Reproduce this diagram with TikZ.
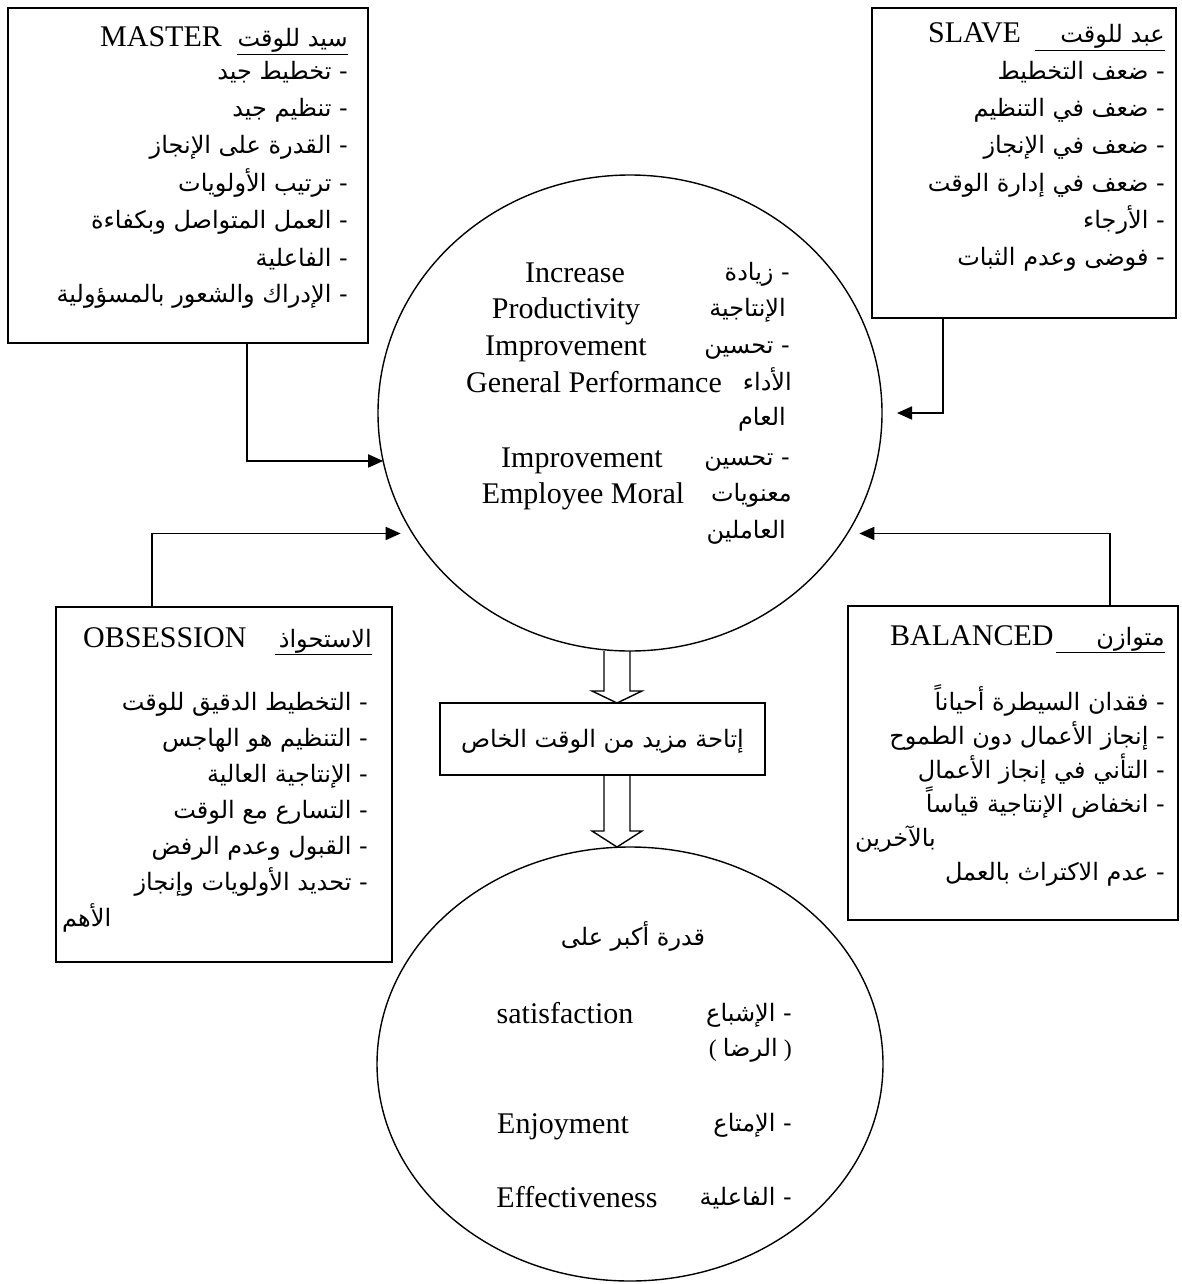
\documentclass[tikz,border=0pt]{standalone}
\usepackage{fontspec}
\setmainfont{Liberation Serif}
\newfontfamily\arfont[Script=Arabic]{DejaVu Sans}
\TeXXeTstate=1
\usetikzlibrary{shapes.geometric,arrows.meta}
\newcommand\AR[1]{{\arfont\beginR #1\endR}}
\begin{document}
\begin{tikzpicture}[x=1pt,y=-1pt,
  boxnode/.style={draw,line width=1.8pt,inner sep=0,outer sep=0,anchor=north west},
  circnode/.style={draw,ellipse,line width=1.4pt,inner sep=0,outer sep=0},
  arr/.style={line width=1.8pt,-{Triangle[length=15pt,width=13pt]}},
  hollow/.style={draw,line width=1.4pt,line join=miter},
  ar/.style={font=\fontsize{24}{28}\selectfont,inner sep=0,anchor=base east},
  arl/.style={font=\fontsize{24}{28}\selectfont,inner sep=0,anchor=base west},
  arc/.style={font=\fontsize{24}{28}\selectfont,inner sep=0,anchor=base},
  en/.style={font=\fontsize{30}{36}\selectfont,inner sep=0,anchor=base},
  enl/.style={font=\fontsize{30}{36}\selectfont,inner sep=0,anchor=base west},
]
\useasboundingbox (0,0) rectangle (1181,1284);

% boxes
\node[boxnode,minimum width=360pt,minimum height=335pt] (master) at (8,8) {};
\node[boxnode,minimum width=304pt,minimum height=310pt] (slave) at (872,8) {};
\node[boxnode,minimum width=336pt,minimum height=355pt] (obs) at (56,607) {};
\node[boxnode,minimum width=330pt,minimum height=314pt] (bal) at (848,606) {};
\node[boxnode,minimum width=325pt,minimum height=72pt] (mid) at (440,703) {};

% ellipses
\node[circnode,minimum width=504pt,minimum height=476pt] (main) at (630,413) {};
\node[circnode,minimum width=506pt,minimum height=434pt] (bot) at (630,1064) {};

% master text
\node[enl] (mT) at (100,47) {MASTER};
\node[ar] (mA) at (348,47) {\underline{\makebox[111pt][r]{\AR{سيد للوقت}}}};
\node[ar] (m1) at (348,80) {\AR{- تخطيط جيد}};
\node[ar] (m2) at (348,117) {\AR{- تنظيم جيد}};
\node[ar] (m3) at (348,154) {\AR{- القدرة على الإنجاز}};
\node[ar] (m4) at (348,191) {\AR{- ترتيب الأولويات}};
\node[ar] (m5) at (348,228) {\AR{- العمل المتواصل وبكفاءة}};
\node[ar] (m6) at (348,266) {\AR{- الفاعلية}};
\node[ar] (m7) at (348,302) {\AR{- الإدراك والشعور بالمسؤولية}};

% slave text
\node[enl] (sT) at (928,43) {SLAVE};
\node[ar] (sA) at (1165,43) {\underline{\makebox[130pt][r]{\AR{عبد للوقت}}}};
\node[ar] (s1) at (1165,80) {\AR{- ضعف التخطيط}};
\node[ar] (s2) at (1165,117) {\AR{- ضعف في التنظيم}};
\node[ar] (s3) at (1165,154) {\AR{- ضعف في الإنجاز}};
\node[ar] (s4) at (1165,191) {\AR{- ضعف في إدارة الوقت}};
\node[ar] (s5) at (1165,228) {\AR{- الأرجاء}};
\node[ar] (s6) at (1165,265) {\AR{- فوضى وعدم الثبات}};

% main circle text
\node[ar] (c1) at (790,280) {\AR{- زيادة}};
\node[ar] (c2) at (786,316) {\AR{الإنتاجية}};
\node[ar] (c3) at (790,353) {\AR{- تحسين}};
\node[ar] (c4) at (792,390) {\AR{الأداء}};
\node[ar] (c5) at (786,425) {\AR{العام}};
\node[ar] (c6) at (790,465) {\AR{- تحسين}};
\node[ar] (c7) at (792,501) {\AR{معنويات}};
\node[ar] (c8) at (786,538) {\AR{العاملين}};
\node[en] (e1) at (575,282) {Increase};
\node[en] (e2) at (566,318) {Productivity};
\node[en] (e3) at (566,355) {Improvement};
\node[en] (e4) at (594,392) {General Performance};
\node[en] (e5) at (582,467) {Improvement};
\node[en] (e6) at (583,503) {Employee Moral};

% obsession text
\node[enl] (oT) at (83,647) {OBSESSION};
\node[ar] (oA) at (372,647) {\underline{\makebox[97pt][r]{\AR{الاستحواذ}}}};
\node[ar] (o1) at (368,710) {\AR{- التخطيط الدقيق للوقت}};
\node[ar] (o2) at (368,746) {\AR{- التنظيم هو الهاجس}};
\node[ar] (o3) at (368,782) {\AR{- الإنتاجية العالية}};
\node[ar] (o4) at (368,818) {\AR{- التسارع مع الوقت}};
\node[ar] (o5) at (368,854) {\AR{- القبول وعدم الرفض}};
\node[ar] (o6) at (368,890) {\AR{- تحديد الأولويات وإنجاز}};
\node[arl] (o7) at (62,926) {\AR{الأهم}};

% balanced text
\node[enl] (bT) at (890,645) {BALANCED};
\node[ar] (bA) at (1165,645) {\underline{\makebox[109pt][r]{\AR{متوازن}}}};
\node[ar] (b1) at (1165,710) {\AR{- فقدان السيطرة أحياناً}};
\node[ar] (b2) at (1165,744) {\AR{- إنجاز الأعمال دون الطموح}};
\node[ar] (b3) at (1165,778) {\AR{- التأني في إنجاز الأعمال}};
\node[ar] (b4) at (1165,812) {\AR{- انخفاض الإنتاجية قياساً}};
\node[arl] (b5) at (855,846) {\AR{بالآخرين}};
\node[ar] (b6) at (1165,880) {\AR{- عدم الاكتراث بالعمل}};

% middle box text
\node[font=\fontsize{24}{28}\selectfont,inner sep=0] (midT) at ([yshift=-2pt]mid.center) {\AR{إتاحة مزيد من الوقت الخاص}};

% bottom circle text
\node[arc] (q0) at (633,945) {\AR{قدرة أكبر على}};
\node[ar] (q1) at (792,1021) {\AR{- الإشباع}};
\node[ar] (q2) at (792,1056) {( \AR{الرضا} )};
\node[ar] (q3) at (792,1131) {\AR{- الإمتاع}};
\node[ar] (q4) at (792,1205) {\AR{- الفاعلية}};
\node[en] (f1) at (565,1023) {satisfaction};
\node[en] (f2) at (563,1133) {Enjoyment};
\node[en] (f3) at (577,1207) {Effectiveness};

% connectors
\draw[arr] ([xshift=59pt]master.south) |- (main.191.5);
\draw[arr] ([xshift=-81pt]slave.south) |- ([xshift=15pt]main.east);
\draw[arr] ([xshift=-72pt]obs.north) |- ([xshift=-12pt]main.209.5);
\draw[arr] ([xshift=97pt]bal.north) |- ([xshift=12pt]main.-29.5);

% hollow arrows
\coordinate (acol) at (617,0);
\draw[hollow] ([xshift=-13pt]acol |- main.south) -- ([xshift=-13pt,yshift=12pt]acol |- mid.north)
  -- ([xshift=-25pt,yshift=12pt]acol |- mid.north) -- (acol |- mid.north)
  -- ([xshift=25pt,yshift=12pt]acol |- mid.north) -- ([xshift=13pt,yshift=12pt]acol |- mid.north)
  -- ([xshift=13pt]acol |- main.south);
\draw[hollow] ([xshift=-13pt]acol |- mid.south) -- ([xshift=-13pt,yshift=16pt]acol |- bot.north)
  -- ([xshift=-25pt,yshift=16pt]acol |- bot.north) -- (acol |- bot.north)
  -- ([xshift=25pt,yshift=16pt]acol |- bot.north) -- ([xshift=13pt,yshift=16pt]acol |- bot.north)
  -- ([xshift=13pt]acol |- mid.south);
\end{tikzpicture}
\end{document}
